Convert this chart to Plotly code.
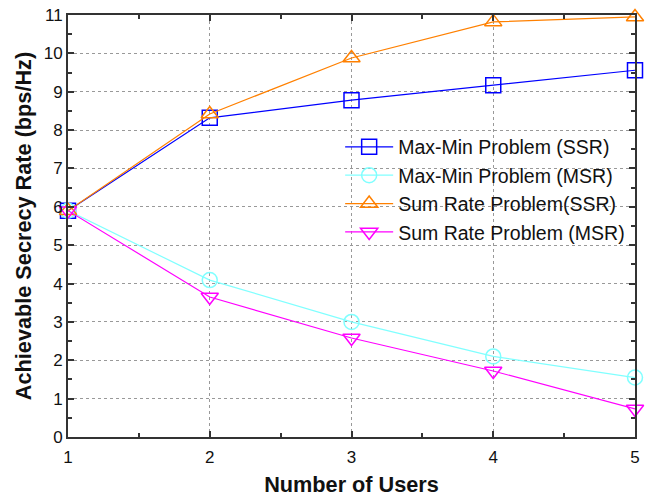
import plotly.graph_objects as go

users = [1, 2, 3, 4, 5]
maxmin_ssr = [5.9, 8.32, 8.78, 9.17, 9.56]
maxmin_msr = [5.9, 4.09, 3.0, 2.1, 1.55]
sumrate_ssr = [5.9, 8.42, 9.88, 10.82, 10.95]
sumrate_msr = [5.9, 3.65, 2.58, 1.72, 0.73]

names = ["Max-Min Problem (SSR)", "Max-Min Problem (MSR)",
         "Sum Rate Problem(SSR)", "Sum Rate Problem (MSR)"]
series = [maxmin_ssr, maxmin_msr, sumrate_ssr, sumrate_msr]
colors = ["#0000ff", "#80ffff", "#ff8000", "#ff00ff"]
symbols = ["square-open", "circle-open", "triangle-up-open", "triangle-down-open"]

FONT = "Liberation Sans, Arial, sans-serif"

fig = go.Figure()
for n, s, c, sym in zip(names, series, colors, symbols):
    fig.add_trace(go.Scatter(
        x=users, y=s, name=n, mode="lines+markers",
        line=dict(color=c, width=1.2),
        marker=dict(symbol=sym, size=15, color=c, line=dict(color=c, width=1.5)),
        cliponaxis=False,
    ))

axis_common = dict(
    showline=True, linecolor="#333333", linewidth=2, mirror="allticks",
    ticks="inside", ticklen=6, tickwidth=2, tickcolor="#333333",
    showgrid=True, gridcolor="#999999", griddash="dot", gridwidth=1,
    zeroline=False, automargin=False,
    tickfont=dict(family=FONT, size=17, color="#111111"),
)
fig.update_xaxes(
    range=[1, 5], dtick=1, tick0=1, ticklabelstandoff=4,
    minor=dict(ticks="inside", dtick=0.5, ticklen=4, tickcolor="#333333", tickwidth=1.5, showgrid=False),
    title=dict(text="<b>Number of Users</b>", font=dict(family=FONT, size=21.7, color="#111111"), standoff=10),
    **axis_common,
)
fig.update_yaxes(
    range=[0, 11], dtick=1, tick0=0,
    minor=dict(ticks="inside", dtick=0.5, ticklen=4, tickcolor="#333333", tickwidth=1.5, showgrid=False),
    title=dict(text="<b>Achievable Secrecy Rate (bps/Hz)</b>", font=dict(family=FONT, size=21.7, color="#111111"), standoff=6),
    **axis_common,
)
fig.update_layout(
    width=649, height=497,
    margin=dict(l=68, r=14, t=15, b=60),
    plot_bgcolor="white", paper_bgcolor="white",
    legend=dict(x=0.48, y=0.733, xanchor="left", yanchor="top",
                bgcolor="rgba(255,255,255,0)", borderwidth=0,
                font=dict(family=FONT, size=19.5, color="#111111"),
                tracegroupgap=0, itemwidth=48),
    showlegend=True,
)
fig.write_html("out.html")
